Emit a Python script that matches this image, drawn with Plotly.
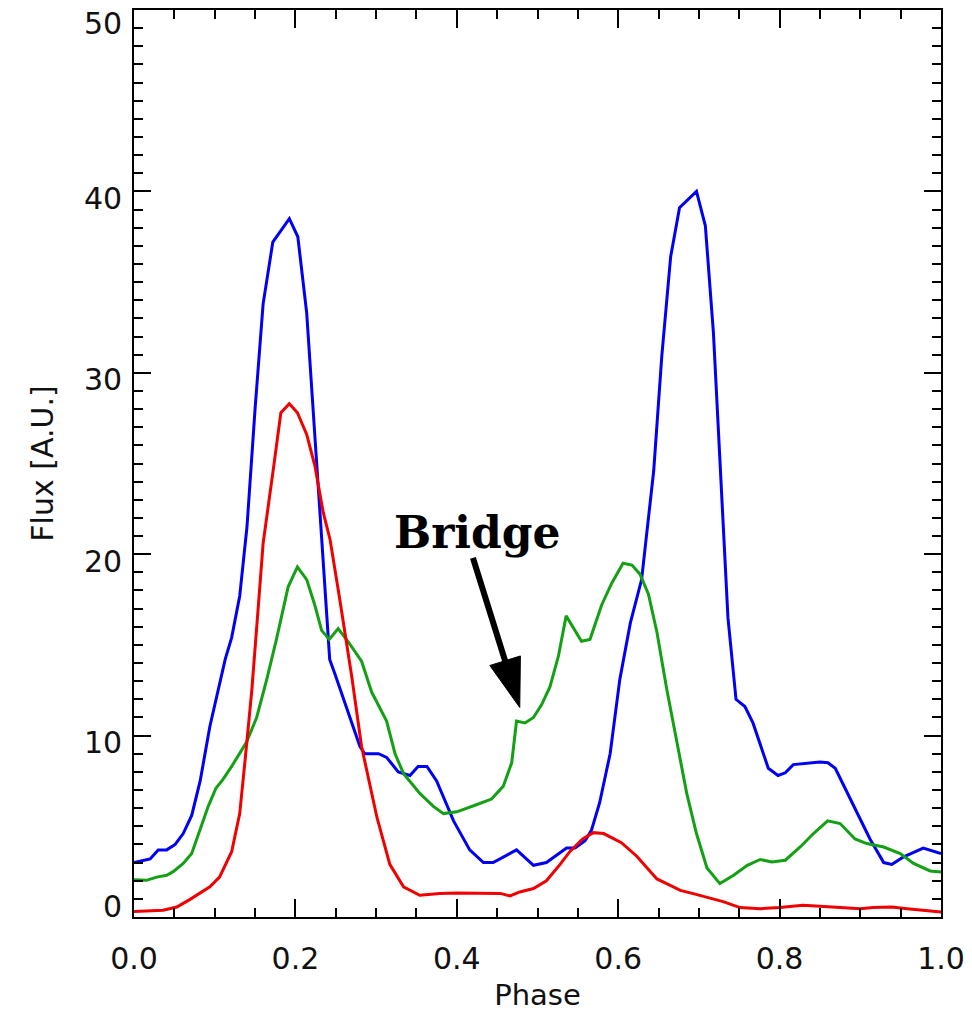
import math
import plotly.graph_objects as go

# ---------------- data ----------------
blue_phase = [0.000, 0.0115, 0.020, 0.030, 0.0405, 0.051, 0.061, 0.0715, 0.082, 0.094,
              0.1045, 0.113, 0.121, 0.131, 0.140, 0.150, 0.160, 0.172, 0.1925, 0.203,
              0.214, 0.2425, 0.249, 0.280, 0.286, 0.303, 0.313, 0.3275, 0.342, 0.352,
              0.363, 0.375, 0.396, 0.416, 0.433, 0.445, 0.474, 0.495, 0.511, 0.524,
              0.536, 0.5465, 0.559, 0.567, 0.577, 0.590, 0.602, 0.615, 0.629, 0.644,
              0.654, 0.665, 0.676, 0.697, 0.708, 0.718, 0.736, 0.746, 0.757, 0.767,
              0.786, 0.798, 0.807, 0.817, 0.850, 0.860, 0.869, 0.891, 0.912, 0.929,
              0.939, 0.953, 0.978, 1.000]
blue_flux = [3.0, 3.1, 3.2, 3.7, 3.7, 4.0, 4.6, 5.6, 7.5, 10.5,
             12.5, 14.2, 15.4, 17.7, 21.5, 28.0, 33.8, 37.2, 38.5, 37.5,
             33.3, 14.2, 13.4, 9.4, 9.0, 9.0, 8.8, 8.0, 7.8, 8.3,
             8.3, 7.5, 5.3, 3.7, 3.0, 3.0, 3.7, 2.85, 3.0, 3.4,
             3.8, 3.8, 4.2, 4.8, 6.3, 9.0, 13.1, 16.2, 18.6, 24.6,
             30.9, 36.4, 39.1, 40.0, 38.1, 32.2, 16.5, 12.0, 11.6, 10.7,
             8.2, 7.8, 7.95, 8.4, 8.55, 8.5, 8.2, 6.2, 4.3, 3.0,
             2.9, 3.3, 3.8, 3.5]

green_phase = [0.000, 0.0155, 0.028, 0.0405, 0.0485, 0.061, 0.0715, 0.082, 0.092, 0.1015,
               0.1105, 0.121, 0.131, 0.1395, 0.152, 0.1645, 0.1765, 0.191, 0.2025, 0.214,
               0.224, 0.2325, 0.242, 0.253, 0.265, 0.282, 0.2945, 0.313, 0.3235, 0.334,
               0.3545, 0.371, 0.3835, 0.400, 0.425, 0.443, 0.4575, 0.468, 0.474, 0.4845,
               0.495, 0.505, 0.5155, 0.526, 0.5355, 0.5545, 0.565, 0.5795, 0.592, 0.606,
               0.617, 0.627, 0.6375, 0.648, 0.660, 0.673, 0.685, 0.697, 0.710, 0.726,
               0.743, 0.760, 0.776, 0.7905, 0.807, 0.8255, 0.842, 0.8595, 0.875, 0.8935,
               0.908, 0.929, 0.9495, 0.966, 0.9865, 1.000]
green_flux = [2.05, 2.02, 2.2, 2.3, 2.5, 2.95, 3.5, 4.8, 6.1, 7.1,
              7.6, 8.3, 9.0, 9.65, 11.0, 13.1, 15.3, 18.2, 19.3, 18.6,
              17.2, 15.8, 15.3, 15.9, 15.2, 14.1, 12.4, 10.8, 9.0, 7.9,
              6.8, 6.1, 5.7, 5.8, 6.2, 6.5, 7.2, 8.5, 10.8, 10.7,
              11.0, 11.7, 12.7, 14.4, 16.6, 15.2, 15.3, 17.2, 18.4, 19.5,
              19.4, 18.9, 17.8, 15.7, 12.6, 9.6, 6.8, 4.6, 2.7, 1.84,
              2.3, 2.85, 3.17, 3.03, 3.13, 3.86, 4.6, 5.3, 5.15, 4.3,
              4.05, 3.86, 3.5, 2.95, 2.54, 2.48]

red_phase = [0.000, 0.036, 0.053, 0.069, 0.094, 0.106, 0.121, 0.131, 0.138, 0.146,
             0.154, 0.160, 0.173, 0.182, 0.1925, 0.2025, 0.214, 0.224, 0.2345, 0.243,
             0.255, 0.270, 0.282, 0.301, 0.317, 0.334, 0.354, 0.379, 0.400, 0.429,
             0.454, 0.466, 0.478, 0.495, 0.511, 0.528, 0.540, 0.556, 0.569, 0.582,
             0.604, 0.623, 0.648, 0.660, 0.677, 0.693, 0.713, 0.730, 0.751, 0.776,
             0.800, 0.829, 0.850, 0.875, 0.900, 0.916, 0.939, 0.958, 0.982, 1.000]
red_flux = [0.3, 0.37, 0.55, 0.96, 1.66, 2.2, 3.6, 5.7, 8.8, 12.5,
            17.1, 20.6, 24.8, 27.8, 28.3, 27.8, 26.6, 24.9, 22.3, 20.8,
            17.5, 13.2, 9.4, 5.5, 2.9, 1.66, 1.2, 1.3, 1.32, 1.32,
            1.3, 1.16, 1.38, 1.57, 2.0, 2.9, 3.6, 4.3, 4.65, 4.6,
            4.1, 3.35, 2.1, 1.84, 1.47, 1.29, 1.07, 0.85, 0.52, 0.46,
            0.52, 0.65, 0.59, 0.52, 0.46, 0.52, 0.55, 0.46, 0.37, 0.28]

x_ticks = [0.0, 0.2, 0.4, 0.6, 0.8, 1.0]
x_tick_text = ["0.0", "0.2", "0.4", "0.6", "0.8", "1.0"]
y_ticks = [0, 10, 20, 30, 40, 50]
y_tick_text = ["0", "10", "20", "30", "40", "50"]

bridge_label = "Bridge"
bridge_text_pos = (0.4256, 21.2)
arrow_tail = (0.420, 19.8)
arrow_tip = (0.478, 11.55)

# ---------------- layout constants ----------------
W, H = 972, 1013
M_L, M_R, M_T, M_B = 134, 31, 10, 96
X_RANGE = [0.0, 1.0]
Y_RANGE = [0.0, 50.0]

fig = go.Figure()
for ph, fl, col in [(blue_phase, blue_flux, "rgb(0,0,245)"),
                    (green_phase, green_flux, "rgb(20,160,20)"),
                    (red_phase, red_flux, "rgb(240,0,0)")]:
    fig.add_trace(go.Scatter(x=ph, y=fl, mode="lines",
                             line=dict(color=col, width=3),
                             showlegend=False, hoverinfo="skip"))

tick_font = dict(family="DejaVu Sans", size=30, color="#111")
axis_common = dict(
    showgrid=False, zeroline=False, showline=True, linecolor="black",
    linewidth=2, mirror="ticks", ticks="inside", tickwidth=2,
    tickcolor="black", tickfont=tick_font,
)

fig.update_xaxes(
    range=X_RANGE, tickvals=x_ticks, ticktext=x_tick_text, ticklen=18,
    ticklabelstandoff=14,
    minor=dict(dtick=0.05, ticklen=9, ticks="inside", tickwidth=2, tickcolor="black"),
    title=dict(text="Phase", font=dict(family="DejaVu Sans", size=29, color="#111"),
               standoff=10),
    **axis_common,
)
# y tick labels are placed IDL-style (kept inside the axis extent), see below
fig.update_yaxes(
    range=Y_RANGE, tickvals=y_ticks, ticklen=17, showticklabels=False,
    minor=dict(dtick=1, ticklen=9, ticks="inside", tickwidth=2, tickcolor="black"),
    title=dict(text="Flux [A.U.]", font=dict(family="DejaVu Sans", size=30, color="#111"),
               standoff=70),
    **axis_common,
)
for v, t in zip(y_ticks, y_tick_text):
    if v == Y_RANGE[1]:
        ya, ys = "top", 6
    elif v == Y_RANGE[0]:
        ya, ys = "bottom", -9
    else:
        ya, ys = "middle", -7
    fig.add_annotation(x=0, y=v, xref="paper", yref="y", text=t, showarrow=False,
                       xanchor="right", yanchor=ya, xshift=-10, yshift=ys,
                       font=tick_font)

# Arrow (shaft + filled head) computed from the tail/tip in pixel space
plot_w = W - M_L - M_R
plot_h = H - M_T - M_B
sx = plot_w / (X_RANGE[1] - X_RANGE[0])
sy = plot_h / (Y_RANGE[1] - Y_RANGE[0])
dx_px = (arrow_tip[0] - arrow_tail[0]) * sx
dy_px = (arrow_tip[1] - arrow_tail[1]) * sy
L = math.hypot(dx_px, dy_px)
ux, uy = dx_px / L, dy_px / L
head_len, head_half = 49, 16
bx = arrow_tip[0] - ux * head_len / sx
by = arrow_tip[1] - uy * head_len / sy
px_, py_ = -uy, ux
c1 = (bx + px_ * head_half / sx, by + py_ * head_half / sy)
c2 = (bx - px_ * head_half / sx, by - py_ * head_half / sy)
shaft_end = (arrow_tip[0] - ux * (head_len - 4) / sx, arrow_tip[1] - uy * (head_len - 4) / sy)

fig.add_shape(type="line", xref="x", yref="y",
              x0=arrow_tail[0], y0=arrow_tail[1], x1=shaft_end[0], y1=shaft_end[1],
              line=dict(color="black", width=6))
fig.add_shape(type="path", xref="x", yref="y",
              path=f"M {c1[0]},{c1[1]} L {arrow_tip[0]},{arrow_tip[1]} L {c2[0]},{c2[1]} Z",
              fillcolor="black", line=dict(color="black", width=1))

fig.add_annotation(x=bridge_text_pos[0], y=bridge_text_pos[1], xref="x", yref="y",
                   text=f"<b>{bridge_label}</b>", showarrow=False,
                   font=dict(family="DejaVu Serif", size=44, color="black"),
                   xanchor="center", yanchor="middle")

fig.update_layout(
    width=W, height=H,
    margin=dict(l=M_L, r=M_R, t=M_T, b=M_B, autoexpand=False),
    paper_bgcolor="white", plot_bgcolor="white",
)

fig.write_html("out.html")
